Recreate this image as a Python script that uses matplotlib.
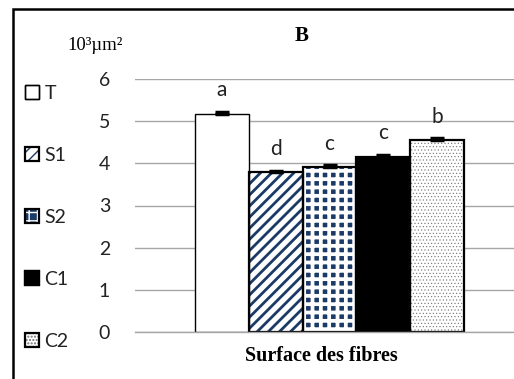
import matplotlib
matplotlib.use('Agg')
import matplotlib.pyplot as plt
from matplotlib.patches import Rectangle, Patch
from matplotlib.legend_handler import HandlerTuple

categories = ['T', 'S1', 'S2', 'C1', 'C2']
values = [5.17, 3.79, 3.91, 4.15, 4.55]
errors = [0.04, 0.04, 0.04, 0.04, 0.05]
letters = ['a', 'd', 'c', 'c', 'b']
yticks = [0, 1, 2, 3, 4, 5, 6]

NAVY = '#1B3A66'
face = ['white', 'white', NAVY, 'black', 'white']
hatches = [None, '///', '++', None, '.....']
hatch_colors = ['black', NAVY, 'white', 'black', '#707070']
hatch_lw = [1.0, 2.0, 2.7, 1.0, 0.4]
edge_lw = [1.0, 1.6, 1.6, 1.6, 1.6]

W, H = 514, 379
fig = plt.figure(figsize=(W / 100, H / 100), dpi=100)
ax = fig.add_axes([135 / W, 47 / H, (524 - 135) / W, (332 - 79) / H])

x = list(range(len(categories)))
ax.set_xlim(-1.615, 5.615)
ax.set_ylim(0, 6)
ax.set_yticks(yticks)
ax.set_xticks([])
ax.yaxis.grid(True, color='#A6A6A6', linewidth=1.0)
ax.set_axisbelow(True)
for s in ['top', 'right', 'left']:
    ax.spines[s].set_visible(False)
ax.spines['bottom'].set_color('#A6A6A6')
ax.spines['bottom'].set_linewidth(1.0)
ax.tick_params(axis='y', length=0, pad=18, labelsize=14, labelcolor='#222222')
for lab in ax.get_yticklabels():
    lab.set_fontfamily('Lato')

handles = []
fill_bars = ax.bar(x, values, width=1.0, color=face, linewidth=0)
for i, b in enumerate(fill_bars):
    if hatches[i]:
        b.set_hatch(hatches[i])
        b.set_edgecolor(hatch_colors[i])
        b.set_linewidth(0)
        if hasattr(b, 'set_hatch_linewidth'):
            b.set_hatch_linewidth(hatch_lw[i])
outline = ax.bar(x, values, width=1.0, fill=False, edgecolor='black', linewidth=edge_lw)

ax.errorbar(x, values, yerr=[[0] * len(values), errors], fmt='none', ecolor='black',
            elinewidth=2.5, capsize=5, capthick=2.5)

for xi, v, e, l in zip(x, values, errors, letters):
    ax.annotate(l, (xi, v), xytext=(0, 17), textcoords='offset points', ha='center',
                va='center', fontsize=15, family='Lato', color='#222222')

for i, c in enumerate(categories):
    p1 = Patch(facecolor=face[i], edgecolor=hatch_colors[i] if hatches[i] else 'black',
               hatch=hatches[i], linewidth=0 if hatches[i] else edge_lw[i])
    p2 = Patch(fill=False, edgecolor='black', linewidth=edge_lw[i])
    handles.append((p1, p2))

leg = fig.legend(handles, categories, loc='upper left', bbox_to_anchor=(25 / W, 1 - 85 / H),
                 frameon=False, borderaxespad=0, borderpad=0, handlelength=0.7,
                 handleheight=0.7, handletextpad=0.3, labelspacing=2.31,
                 prop={'family': 'Lato', 'size': 14},
                 handler_map={tuple: HandlerTuple(ndivide=1)})
for t in leg.get_texts():
    t.set_color('#222222')

fig.text(95 / W, 1 - 45 / H, '10³µm²', ha='center', va='center',
         family='Liberation Serif', fontsize=13.5)
fig.text(302 / W, 1 - 36 / H, 'B', ha='center', va='center',
         family='Liberation Serif', fontweight='bold', fontsize=15)
fig.text(321 / W, 1 - 356 / H, 'Surface des fibres', ha='center', va='center',
         family='Liberation Serif', fontweight='bold', fontsize=14.5)

fig.add_artist(Rectangle((13 / W, -0.1), 1.2, 1.1 - 9 / H, transform=fig.transFigure,
                         fill=False, edgecolor='black', linewidth=1.8))

fig.savefig('out.png', dpi=100)
